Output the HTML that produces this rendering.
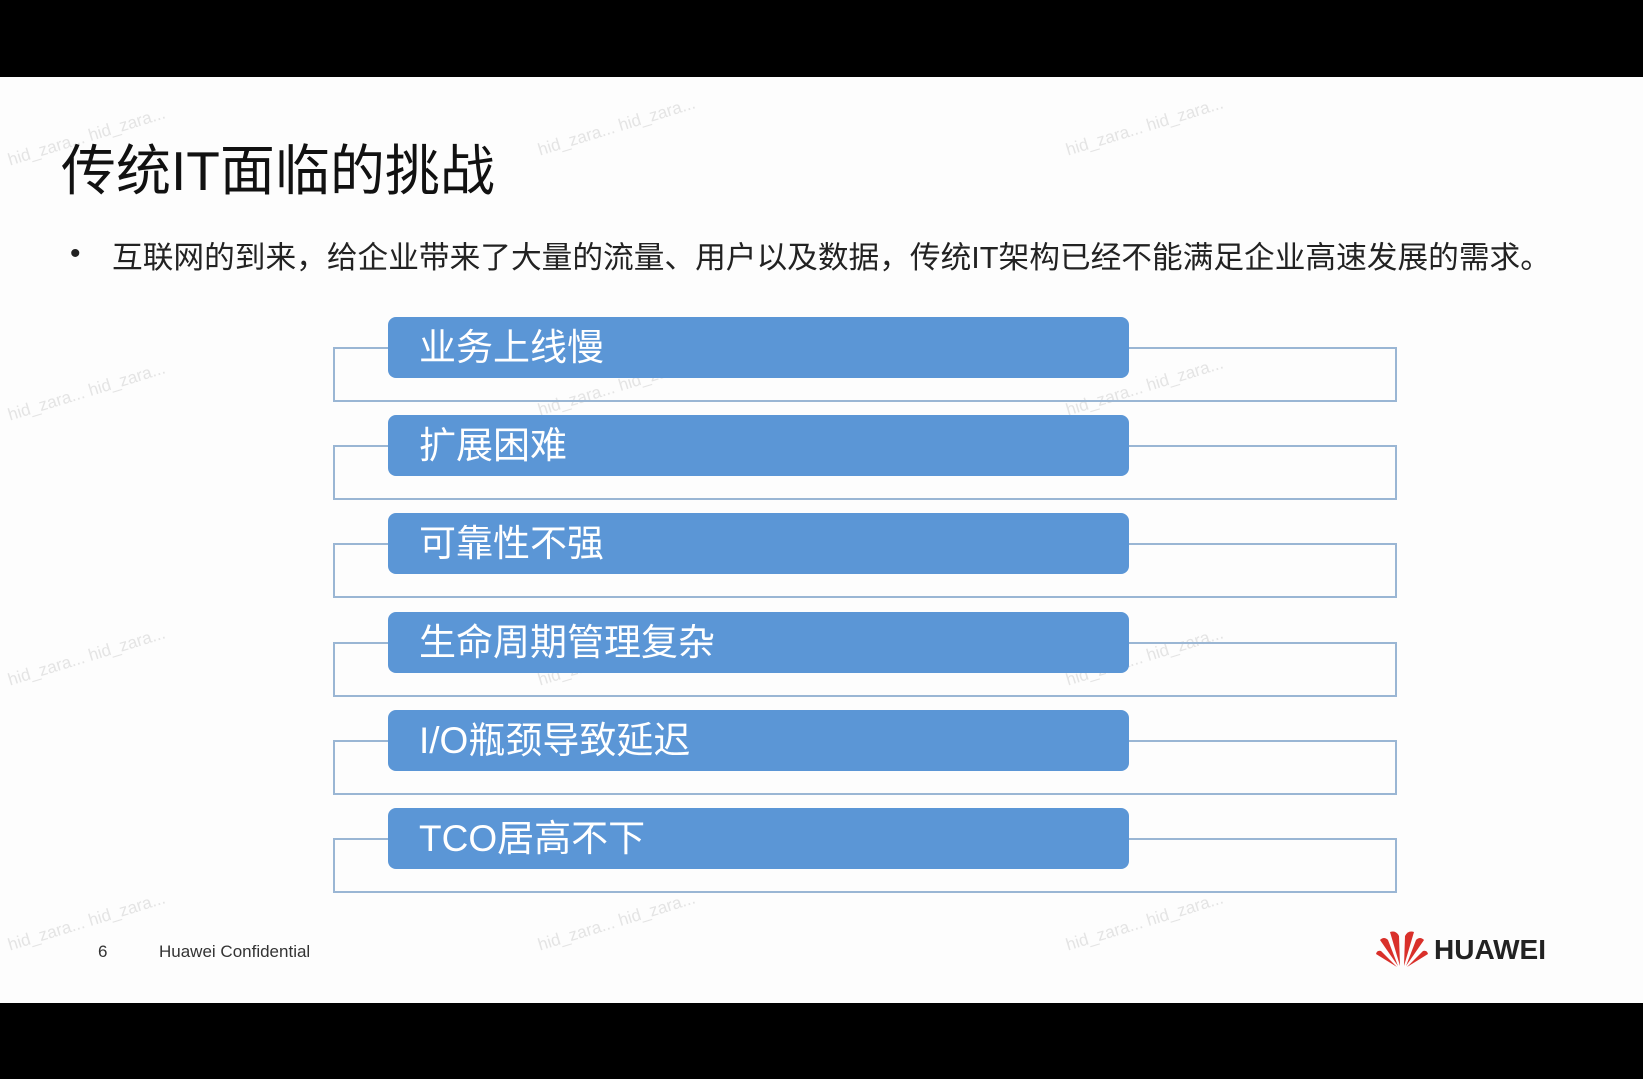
<!DOCTYPE html>
<html><head><meta charset="utf-8"><style>
body{margin:0;width:1643px;height:1079px;background:#000;overflow:hidden;font-family:"Liberation Sans","Noto Sans CJK SC",sans-serif;position:relative}
.slide{position:absolute;left:0;top:77px;width:1643px;height:926px;background:#fdfdfd}
.abs{position:absolute}
.wm{position:absolute;color:#e4e4e4;font-size:17px;transform:rotate(-17deg);white-space:nowrap}
.outline{position:absolute;border:2px solid #9ab6d4;border-top:none;box-sizing:border-box}
.tl{position:absolute;height:2px;background:#9ab6d4}
.bar{position:absolute;background:#5b96d6;border-radius:8px;color:#fff;font-size:37px;line-height:62px;box-sizing:border-box;padding-left:31px}
</style></head><body>
<div class="slide">
  <div class="wm" style="left:5px;top:50px">hid_zara... hid_zara...</div>
  <div class="wm" style="left:535px;top:40px">hid_zara... hid_zara...</div>
  <div class="wm" style="left:1063px;top:40px">hid_zara... hid_zara...</div>
  <div class="wm" style="left:5px;top:305px">hid_zara... hid_zara...</div>
  <div class="wm" style="left:535px;top:300px">hid_zara... hid_zara...</div>
  <div class="wm" style="left:1063px;top:300px">hid_zara... hid_zara...</div>
  <div class="wm" style="left:5px;top:570px">hid_zara... hid_zara...</div>
  <div class="wm" style="left:535px;top:570px">hid_zara... hid_zara...</div>
  <div class="wm" style="left:1063px;top:570px">hid_zara... hid_zara...</div>
  <div class="wm" style="left:5px;top:835px">hid_zara... hid_zara...</div>
  <div class="wm" style="left:535px;top:835px">hid_zara... hid_zara...</div>
  <div class="wm" style="left:1063px;top:835px">hid_zara... hid_zara...</div>
  <div class="abs" style="left:61px;top:49px;font-size:55px;color:#111">传统IT面临的挑战</div>
  <div class="abs" style="left:70px;top:160px;font-size:30px;color:#222">•</div>
  <div class="abs" style="left:112px;top:155px;font-size:30.7px;color:#222;white-space:nowrap">互联网的到来，给企业带来了大量的流量、用户以及数据，传统IT架构已经不能满足企业高速发展的需求。</div>
  <div id="rows"></div>
  <div class="abs" style="left:98px;top:865px;font-size:17px;color:#333">6</div>
  <div class="abs" style="left:159px;top:865px;font-size:17px;color:#333">Huawei Confidential</div>
  <svg class="abs" style="left:1376px;top:851px" width="52" height="40" viewBox="0 0 52 40">
    <g fill="#d9302a">
      <path d="M24 38 L14 4 Q20 2 23 8Z"/><path d="M28 38 L38 4 Q32 2 29 8Z"/>
      <path d="M22 38 L4 12 Q8 8 12 12Z"/><path d="M30 38 L48 12 Q44 8 40 12Z"/>
      <path d="M21 39 L0 26 Q1 22 5 23Z"/><path d="M31 39 L52 26 Q51 22 47 23Z"/>
    </g>
  </svg>
  <div class="abs" style="left:1434px;top:857px;font-size:28px;font-weight:bold;color:#222">HUAWEI</div>
</div>
<script>
const labels=["业务上线慢","扩展困难","可靠性不强","生命周期管理复杂","I/O瓶颈导致延迟","TCO居高不下"];
const rows=document.getElementById('rows');
labels.forEach((t,i)=>{
  const y=i*98.2;
  const o=document.createElement('div');o.className='outline';
  
  
  o.style.cssText=`left:333px;top:${270+y}px;width:1064px;height:55px`;
  rows.appendChild(o);
  const l1=document.createElement('div');l1.className='tl';
  
  
  l1.style.cssText=`left:333px;top:${270+y}px;width:60px`;rows.appendChild(l1);
  const l2=document.createElement('div');l2.className='tl';
  
  
  l2.style.cssText=`left:1125px;top:${270+y}px;width:272px`;rows.appendChild(l2);
  const b=document.createElement('div');b.className='bar';
  
  
  b.style.cssText=`left:388px;top:${240+y}px;width:741px;height:61px`;
  b.textContent=t;rows.appendChild(b);
});
</script>
</body></html>
